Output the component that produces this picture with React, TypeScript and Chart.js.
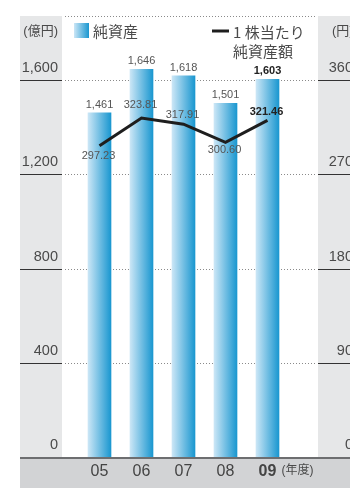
import React, { useEffect, useRef } from "react";
import { Chart, registerables } from "chart.js";

Chart.register(...registerables);

// Fiscal years and values
const categories = ["05", "06", "07", "08", "09"];
const netAssets = [1461, 1646, 1618, 1501, 1603]; // 億円
const perShare = [297.23, 323.81, 317.91, 300.6, 321.46]; // 円
const leftTicks = [0, 400, 800, 1200, 1600];
const rightTicks = [0, 90, 180, 270, 360];
const barLegend = "純資産";
const lineLegend = ["1 株当たり", "純資産額"];
const leftUnit = "(億円)";
const rightUnit = "(円)";
const yearUnit = "(年度)";

const LEFT_MAX = 1872;
const RIGHT_MAX = LEFT_MAX * 0.225;
const FONT = "'Liberation Sans', 'Noto Sans CJK JP', sans-serif";
const CJK = "'Noto Sans CJK JP', 'Liberation Sans', sans-serif";
const TEXT = "#4a4a4a";
const BAR_HALF = 11.5;

// vertical placement of the per-share labels relative to each point
const lineLabelDy = [10, -13, -9, 8, -8];

function barGradient(ctx: CanvasRenderingContext2D, x0: number, x1: number) {
  const g = ctx.createLinearGradient(x0, 0, x1, 0);
  g.addColorStop(0, "#cbe6f6");
  g.addColorStop(1, "#1a97d0");
  return g;
}

// keep the plot box exactly where the layout puts it
function noPad(s: any) {
  s.paddingTop = 0;
  s.paddingBottom = 0;
  s.paddingLeft = 0;
  s.paddingRight = 0;
}

const decor = {
  id: "decor",
  beforeDraw(chart: any) {
    const { ctx, chartArea, scales } = chart;
    const top = chartArea.top;
    const bottom = chartArea.bottom;
    ctx.save();
    ctx.fillStyle = "#ffffff";
    ctx.fillRect(0, 0, chart.width, chart.height);
    // side panels
    ctx.fillStyle = "#e6e7e8";
    ctx.fillRect(20, top, 42, bottom - top);
    ctx.fillRect(318, top, 50, bottom - top);
    // year band
    ctx.fillStyle = "#d2d3d5";
    ctx.fillRect(20, bottom, chart.width - 20, chart.height - bottom);

    // rules under the axis labels
    ctx.strokeStyle = "#333";
    ctx.lineWidth = 1.2;
    leftTicks.forEach((v) => {
      if (v === 0) return;
      const y = Math.round(scales.y.getPixelForValue(v)) + 0.5;
      ctx.beginPath();
      ctx.moveTo(20, y);
      ctx.lineTo(62, y);
      ctx.moveTo(318, y);
      ctx.lineTo(chart.width, y);
      ctx.stroke();
    });

    // dotted grid
    ctx.strokeStyle = "#8a8a8a";
    ctx.lineWidth = 1;
    ctx.setLineDash([1, 2]);
    const ys = [top, ...leftTicks.filter((v) => v !== 0).map((v) => scales.y.getPixelForValue(v))];
    ys.forEach((yy) => {
      const y = Math.round(yy) + 0.5;
      ctx.beginPath();
      ctx.moveTo(65, y);
      ctx.lineTo(315, y);
      ctx.stroke();
    });
    ctx.setLineDash([]);

    // unit captions
    ctx.fillStyle = TEXT;
    ctx.font = `13px ${FONT}`;
    ctx.textBaseline = "middle";
    ctx.textAlign = "right";
    ctx.fillText(leftUnit, 58, 31);
    ctx.textAlign = "left";
    ctx.fillText(rightUnit, 332, 31);

    // legend
    ctx.fillStyle = barGradient(ctx, 74, 89);
    ctx.fillRect(74, 23, 15, 15);
    ctx.fillStyle = TEXT;
    ctx.font = `15px ${CJK}`;
    ctx.fillText(chart.data.datasets[0].label, 93, 31);
    ctx.strokeStyle = "#1e1e1e";
    ctx.lineWidth = 3;
    ctx.beginPath();
    ctx.moveTo(212, 31);
    ctx.lineTo(229, 31);
    ctx.stroke();
    ctx.fillText(lineLegend[0], 233, 32);
    ctx.fillText(lineLegend[1], 233, 51);
    ctx.restore();
  },
  afterDatasetsDraw(chart: any) {
    const { ctx, chartArea, scales } = chart;
    ctx.save();
    // base line
    ctx.fillStyle = "#6d6e70";
    ctx.fillRect(20, chartArea.bottom, chart.width - 20, 2);

    ctx.textAlign = "center";
    ctx.textBaseline = "middle";
    const bars = chart.getDatasetMeta(0).data;
    bars.forEach((el: any, i: number) => {
      const last = i === netAssets.length - 1;
      ctx.font = `${last ? "bold " : ""}11px ${FONT}`;
      ctx.fillStyle = last ? "#222" : "#555";
      ctx.fillText(netAssets[i].toLocaleString("en-US"), el.x, el.y - 8);
    });
    const pts = chart.getDatasetMeta(1).data;
    pts.forEach((el: any, i: number) => {
      const last = i === perShare.length - 1;
      ctx.font = `${last ? "bold " : ""}11px ${FONT}`;
      ctx.fillStyle = last ? "#222" : "#555";
      ctx.fillText(perShare[i].toFixed(2), el.x - 1, el.y + lineLabelDy[i]);
    });

    // year caption
    ctx.font = `12px ${FONT}`;
    ctx.fillStyle = TEXT;
    ctx.textAlign = "left";
    ctx.fillText(yearUnit, scales.x.getPixelForValue(categories.length - 1) + 14, 471);
    ctx.restore();
  },
};

export default function App() {
  const ref = useRef<HTMLCanvasElement | null>(null);

  useEffect(() => {
    if (!ref.current) return;
    const chart = new Chart(ref.current, {
      type: "bar",
      data: {
        labels: categories,
        datasets: [
          {
            type: "bar",
            label: barLegend,
            data: netAssets,
            yAxisID: "y",
            order: 1,
            barThickness: 23,
            borderWidth: 0,
            backgroundColor: (c: any) => {
              const sx = c.chart.scales?.x;
              if (!sx || c.dataIndex == null) return "#5ab4e0";
              const cx = sx.getPixelForValue(c.dataIndex);
              if (!Number.isFinite(cx)) return "#5ab4e0";
              return barGradient(c.chart.ctx, cx - BAR_HALF, cx + BAR_HALF);
            },
          },
          {
            type: "line",
            label: lineLegend.join(""),
            data: perShare,
            yAxisID: "y1",
            order: 0,
            borderColor: "#1e1e1e",
            borderWidth: 3,
            pointRadius: 0,
            tension: 0,
          },
        ],
      } as any,
      plugins: [decor],
      options: {
        responsive: false,
        animation: false,
        devicePixelRatio: 1,
        layout: { padding: { top: 16, left: 0, right: 0, bottom: 0 } },
        plugins: { legend: { display: false }, tooltip: { enabled: false } },
        scales: {
          x: {
            grid: { display: false, drawTicks: false },
            border: { display: false },
            ticks: {
              padding: 5,
              color: "#444",
              font: (c: any) => ({
                family: FONT,
                size: 16,
                weight: c.index === categories.length - 1 ? "bold" : "normal",
              }),
            },
            afterFit: (s: any) => {
              s.height = 31;
              noPad(s);
            },
          },
          y: {
            position: "left",
            min: 0,
            max: LEFT_MAX,
            grid: { display: false, drawTicks: false },
            border: { display: false },
            afterBuildTicks: (s: any) => {
              s.ticks = leftTicks.map((v) => ({ value: v }));
            },
            ticks: {
              padding: 20.5,
              labelOffset: -12,
              color: TEXT,
              font: { family: FONT, size: 14.5 },
              callback: (v: any) => Number(v).toLocaleString("en-US"),
            },
            afterFit: (s: any) => {
              s.width = 78.5;
              noPad(s);
            },
          },
          y1: {
            position: "right",
            min: 0,
            max: RIGHT_MAX,
            grid: { display: false, drawTicks: false },
            border: { display: false },
            afterBuildTicks: (s: any) => {
              s.ticks = rightTicks.map((v) => ({ value: v }));
            },
            ticks: {
              crossAlign: "far",
              labelOffset: -12,
              color: TEXT,
              font: { family: FONT, size: 14.5 },
            },
            afterFit: (s: any) => {
              s.width = 353 - 288.5;
              noPad(s);
            },
          },
        },
      } as any,
    });
    return () => chart.destroy();
  }, []);

  return (
    <div
      style={{
        position: "absolute",
        left: 0,
        top: 0,
        width: 350,
        height: 488,
        overflow: "hidden",
        background: "#fff",
      }}
    >
      <canvas ref={ref} width={353} height={488} style={{ width: 353, height: 488, display: "block" }} />
    </div>
  );
}
